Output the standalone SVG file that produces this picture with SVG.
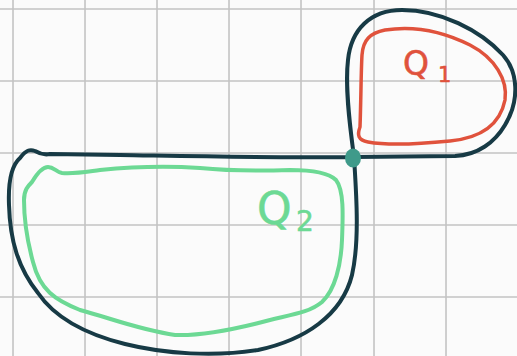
<svg xmlns="http://www.w3.org/2000/svg" width="517" height="356" viewBox="0 0 517 356">
<style>
.grid{stroke:#c4c4c4;stroke-width:1.6;fill:none}
.ink{fill:none;stroke-linecap:round;stroke-linejoin:round}
.dark{stroke:#173a45;stroke-width:4}
.red{stroke:#e0523c;stroke-width:3.5}
.green{stroke:#6cd994;stroke-width:4}
.lbl{font-family:"DejaVu Sans","Liberation Sans",sans-serif;stroke-width:0.6;stroke-linejoin:round}
.lr{fill:#e0523c;stroke:#e0523c}
.lg{fill:#6cd994;stroke:#6cd994}
</style>
<rect width="517" height="356" fill="#fbfbfb"/>
<g id="grid" class="grid">
<path d="M13 0V356M85 0V356M157 0V356M229 0V356M301 0V356M374 0V356M446 0V356"/>
<path d="M0 9H517M0 81H517M0 153H517M0 225H517M0 297H517"/>
</g>
<g id="connectors">
<path class="ink dark" d="M354,157 C349,120 345,85 348,60 C351,30 370,10 402,10 C440,10 480,30 503,55 C518,72 520,100 505,125 C495,142 478,155 455,156 L354,157"/>
<path class="ink dark" d="M354,157 C356,190 360,240 352,275 C342,315 305,340 258,350 C215,357 165,354 125,344 C85,334 55,318 38,293 C18,268 10,240 9,205 C8,180 12,165 20,158 C26,150 30,149 35,151 C40,154 45,155 50,154 L120,155 C180,156 250,158 354,157"/>
</g>
<g id="Q1">
<path class="ink red" d="M360,127 C361,100 361,72 362,55 C363,40 370,33 385,30 C410,26 440,30 470,45 C495,58 508,80 505,100 C500,125 480,138 450,141 C420,144 390,146 368,142 C358,140 357,135 360,127 Z"/>
<text class="lbl lr" x="403" y="75" font-size="33">Q</text>
<text class="lbl lr" x="438" y="82" font-size="21">1</text>
</g>
<g id="Q2">
<path class="ink green" d="M32,182 C38,172 43,167 48,167 C54,167 56,172 62,173 C75,174 85,172 100,170 C130,167 170,166 200,168 C230,171 260,171 290,170 C310,170 328,172 336,180 C344,190 343,215 342,240 C341,265 335,290 322,302 C310,312 295,314 270,320 C240,328 200,336 175,335 C140,330 110,318 80,310 C55,300 40,290 33,262 C27,240 24,215 24,200 C24,190 28,186 32,182 Z"/>
<text class="lbl lg" x="257" y="224" font-size="44">Q</text>
<text class="lbl lg" x="296" y="231" font-size="28">2</text>
</g>
<g id="junction">
<ellipse cx="353" cy="158" rx="8" ry="9.5" fill="#3f9a8a"/>
</g>
</svg>
